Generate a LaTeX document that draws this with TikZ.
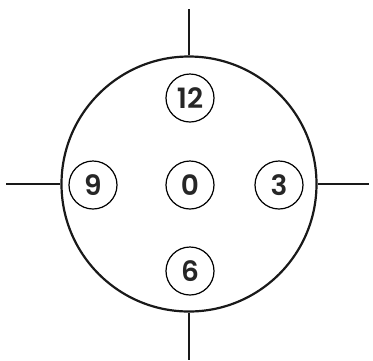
\documentclass[tikz,border=0pt]{standalone}
\usepackage{fontspec}
\setmainfont{Poppins}[UprightFont={* SemiBold}]
\usetikzlibrary{positioning}

\begin{document}
\begin{tikzpicture}[
      x=1pt, y=-1pt,
      every node/.style={align=center, font=\fontsize{28}{28}\selectfont, text=black!85},
      hour/.style={draw, circle, line width=1.2pt, minimum size=48pt, inner sep=0pt},
      dialline/.style={line width=2.2pt, black!90}
   ]
      \useasboundingbox (0,0) rectangle (373,360);
      \node (dial) [circle, draw, dialline, minimum size=255pt, inner sep=0pt] at (189,184) {};
      \node (h0) [hour] at (190,185) {0};
      \node (h12) [hour] at (190,98) {12};
      \node (h6) [hour] at (190,271) {6};
      \node (h9) [hour] at (93,185) {9};
      \node (h3) [hour] at (279,185) {3};
      \coordinate (top) at (189,9);
      \coordinate (bottom) at (189,360);
      \coordinate (left) at (6,184);
      \coordinate (right) at (369,184);
      \draw[dialline] (dial.north) -- (top);
      \draw[dialline] (dial.south) -- (bottom);
      \draw[dialline] (dial.west) -- (left);
      \draw[dialline] (dial.east) -- (right);
   \end{tikzpicture}
\end{document}
